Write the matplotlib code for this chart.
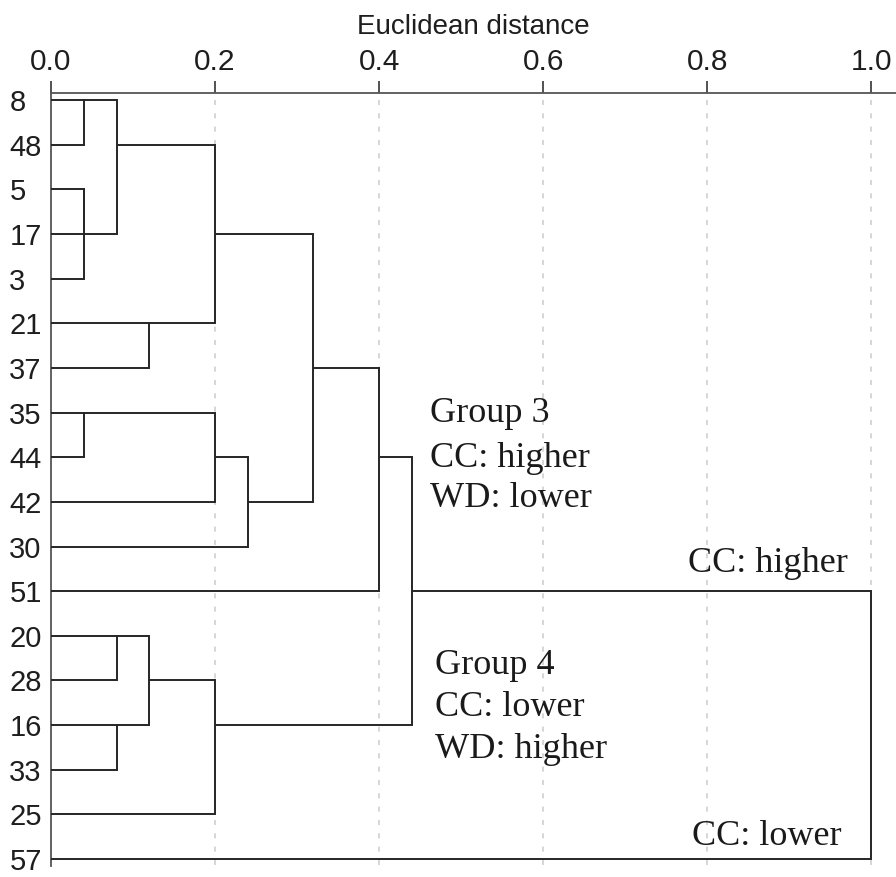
import math
import matplotlib
matplotlib.use("Agg")
import matplotlib.pyplot as plt

# ---- data ----
labels = ["8", "48", "5", "17", "3", "21", "37", "35", "44", "42", "30",
          "51", "20", "28", "16", "33", "25", "57"]
# agglomeration steps: node ids < 18 are leaves (row order), new node = 18 + step
merge_a = [0, 2, 19, 18, 5, 21, 7, 24, 25, 23, 27, 12, 14, 29, 31, 28, 33]
merge_b = [1, 3, 4, 20, 6, 22, 8, 9, 10, 26, 11, 13, 15, 30, 16, 32, 17]
merge_h = [0.04, 0.04, 0.04, 0.08, 0.12, 0.20, 0.04, 0.20, 0.24, 0.32, 0.40,
           0.08, 0.08, 0.12, 0.20, 0.44, 1.00]
x_ticks = [0.0, 0.2, 0.4, 0.6, 0.8, 1.0]
x_tick_labels = ["0.0", "0.2", "0.4", "0.6", "0.8", "1.0"]

plt.rcParams['font.family'] = ['Liberation Sans', 'DejaVu Sans']

fig = plt.figure(figsize=(8.96, 8.77), dpi=100)
# axes from y=93 px (top) to y=866 px (bottom)
ax = fig.add_axes([0.0569, 11 / 877, 0.943, (866 - 93) / 877])

n = len(labels)
pos = {i: i for i in range(n)}
hgt = {i: 0.0 for i in range(n)}
lc = "#262626"
lw = 1.4
for k, (a, b, h) in enumerate(zip(merge_a, merge_b, merge_h)):
    pa, pb = pos[a], pos[b]
    ax.plot([hgt[a], h], [pa, pa], color=lc, lw=lw, solid_capstyle='butt', zorder=3)
    ax.plot([hgt[b], h], [pb, pb], color=lc, lw=lw, solid_capstyle='butt', zorder=3)
    ax.plot([h, h], [pa, pb], color=lc, lw=lw, solid_capstyle='projecting', zorder=3)
    node = n + k
    pos[node] = math.floor((pa + pb) / 2)
    hgt[node] = h

# row spacing 44.65 px, row 0 at y=100 px
sp = 44.65
ax.set_xlim(0, 1.03)
ax.set_ylim((866 - 100) / sp, (93 - 100) / sp)

# grid
for xv in x_ticks[1:]:
    ax.plot([xv, xv], [0.0, (866 - 100) / sp], color="#d0d0d0", lw=1.2,
            linestyle=(0, (3, 5)), zorder=1)

ax.xaxis.tick_top()
ax.xaxis.set_label_position('top')
ax.set_xticks(x_ticks)
ax.set_xticklabels(x_tick_labels)
ax.tick_params(axis='x', direction='out', length=9, width=1.3, color="#444444",
               labelsize=21.5, pad=3, labelcolor="#1e1e1e")
ax.set_xlabel("Euclidean distance", fontsize=20, labelpad=10, color="#1e1e1e")

ax.set_yticks(range(n))
ax.set_yticklabels(labels)
ax.tick_params(axis='y', length=0, labelsize=21, pad=30, labelcolor="#1e1e1e")
for t in ax.get_yticklabels():
    t.set_horizontalalignment('left')

for s in ['bottom', 'right']:
    ax.spines[s].set_visible(False)
for s in ['top', 'left']:
    ax.spines[s].set_color("#555555")
    ax.spines[s].set_linewidth(1.3)

serif = ['Liberation Serif', 'DejaVu Serif']
fs = 26
tc = "#1a1a1a"
ax.text(0.462, 7.03, "Group 3", fontsize=fs, family=serif, va='center', color=tc)
ax.text(0.462, 8.03, "CC: higher", fontsize=fs, family=serif, va='center', color=tc)
ax.text(0.462, 8.93, "WD: lower", fontsize=fs, family=serif, va='center', color=tc)
ax.text(0.468, 12.67, "Group 4", fontsize=fs, family=serif, va='center', color=tc)
ax.text(0.468, 13.6, "CC: lower", fontsize=fs, family=serif, va='center', color=tc)
ax.text(0.468, 14.55, "WD: higher", fontsize=fs, family=serif, va='center', color=tc)
ax.text(0.777, 10.37, "CC: higher", fontsize=fs, family=serif, va='center', color=tc)
ax.text(0.782, 16.5, "CC: lower", fontsize=fs, family=serif, va='center', color=tc)

fig.savefig("out.png", dpi=100)
